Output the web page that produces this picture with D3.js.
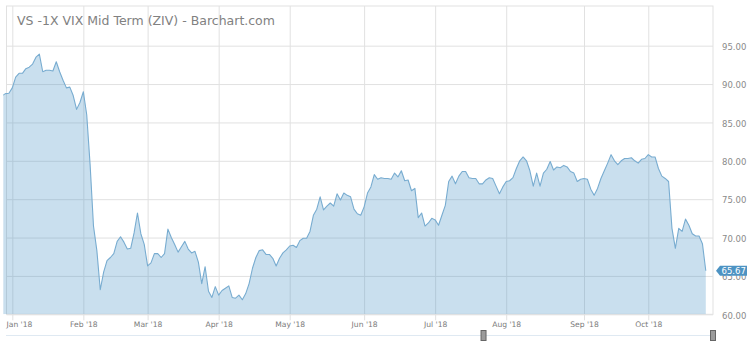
<!DOCTYPE html>
<html><head><meta charset="utf-8">
<script src="https://cdn.jsdelivr.net/npm/d3@7"></script>
<style>body{margin:0;background:#fff}svg{display:block}text{font-family:"DejaVu Sans",sans-serif}</style>
</head><body><svg id="c" width="750" height="346"></svg>
<script>
const title = "VS -1X VIX Mid Term (ZIV) - Barchart.com";
// daily closes, trading-day order (Dec 27 2017 .. Oct 24 2018)
const values = [
  88.5, 88.75, 88.8, 89.5, 90.9, 91.4, 91.4, 92.0, 92.2, 92.6,
  93.5, 93.9, 91.6, 91.8, 91.8, 91.7, 92.9, 91.6, 90.5, 89.5,
  89.6, 88.5, 86.7, 87.6, 89.0, 86.0, 79.5, 71.5, 68.3, 63.2,
  65.5, 67.0, 67.4, 67.9, 69.5, 70.1, 69.4, 68.5, 68.6, 70.6,
  73.2, 70.5, 69.1, 66.3, 66.7, 67.9, 67.9, 67.4, 67.9, 71.1,
  70.0, 69.1, 68.1, 68.8, 69.5, 68.5, 68.0, 68.2, 66.8, 64.0,
  66.2, 63.0, 62.2, 63.6, 62.5, 63.1, 63.4, 63.7, 62.2, 62.1,
  62.5, 61.9, 62.7, 64.0, 66.0, 67.4, 68.3, 68.4, 67.8, 67.8,
  67.3, 66.3, 67.3, 68.0, 68.4, 68.9, 69.0, 68.7, 69.6, 69.9,
  69.9, 70.8, 72.9, 73.7, 75.3, 73.6, 74.1, 74.5, 74.1, 75.7,
  74.9, 75.8, 75.5, 75.3, 73.7, 73.1, 72.9, 74.0, 75.8, 76.6,
  78.2, 77.6, 77.8, 77.7, 77.7, 77.6, 78.4, 77.9, 78.7, 77.4,
  77.5, 76.1, 76.4, 72.6, 73.2, 71.5, 71.9, 72.5, 72.3, 71.6,
  72.9, 74.2, 77.3, 78.0, 77.0, 78.0, 78.6, 78.6, 77.8, 77.7,
  77.7, 77.0, 77.0, 77.5, 77.8, 77.7, 76.7, 75.7, 76.6, 77.3,
  77.4, 77.8, 79.0, 80.0, 80.5, 80.0, 78.7, 76.7, 78.4, 76.7,
  78.4, 78.9, 79.9, 78.8, 79.2, 79.1, 79.4, 79.2, 78.6, 78.4,
  77.3, 77.6, 77.7, 77.6, 76.3, 75.5, 76.4, 77.7, 78.7, 79.7,
  80.8, 80.0, 79.5, 80.0, 80.3, 80.3, 80.4, 80.0, 79.7, 80.2,
  80.3, 80.8, 80.5, 80.5, 79.0, 78.0, 77.7, 77.3, 71.2, 68.6,
  71.2, 70.8, 72.4, 71.6, 70.5, 70.2, 70.2, 69.2, 65.67
];
const monthLabels = ["Jan '18","Feb '18","Mar '18","Apr '18","May '18","Jun '18","Jul '18","Aug '18","Sep '18","Oct '18"];
const monthStartIdx = [3, 24, 43, 64, 85, 107, 128, 149, 172, 191];
const yTicks = [60, 65, 70, 75, 80, 85, 90, 95];
const navigatorRange = [142, 208];
const lastValue = values[values.length - 1];

const svg = d3.select("#c");
const P = {left: 6.5, right: 713, top: 6, bottom: 314.3};
const x = d3.scaleLinear().domain([0, values.length - 1]).range([2.15, 705.8]);
const y = d3.scaleLinear().domain([60, 100]).range([314.3, 7.3]);
const gridColor = "#e1e1e1";

svg.append("defs").append("clipPath").attr("id", "clip")
  .append("rect").attr("x", 3.3).attr("y", P.top).attr("width", P.right - 3.3).attr("height", P.bottom - P.top);

// horizontal grid via axis
const gy = svg.append("g").attr("transform", `translate(${P.left},0)`)
  .call(d3.axisRight(y).tickValues(yTicks).tickSize(P.right - P.left).tickFormat(""));
gy.select(".domain").remove();
gy.selectAll("line").attr("stroke", gridColor);

// vertical grid + ticks via axis
const gx = svg.append("g").attr("transform", `translate(0,${P.bottom + 6})`)
  .call(d3.axisTop(x).tickValues(monthStartIdx).tickSize(P.bottom + 6 - P.top).tickFormat(""));
gx.select(".domain").remove();
gx.selectAll("line").attr("stroke", gridColor);

// frame
svg.append("rect").attr("x", P.left).attr("y", P.top).attr("width", P.right - P.left).attr("height", P.bottom - P.top)
  .attr("fill", "none").attr("stroke", gridColor);

// area + line
const g = svg.append("g").attr("clip-path", "url(#clip)");
g.append("path").datum(values)
  .attr("d", d3.area().x((d, i) => x(i)).y0(y(60)).y1(d => y(d)))
  .attr("fill", "rgb(70,145,195)").attr("fill-opacity", 0.29);
g.append("path").datum(values)
  .attr("d", d3.line().x((d, i) => x(i)).y(d => y(d)))
  .attr("fill", "none").attr("stroke", "#78acd0").attr("stroke-width", 1.1).attr("stroke-linejoin", "round");

// title
svg.append("text").attr("x", 17).attr("y", 25).attr("font-size", 12.5).attr("fill", "#818181").text(title);

// y labels
const yl = svg.append("g").attr("transform", `translate(722,1)`)
  .call(d3.axisRight(y).tickValues(yTicks).tickSize(0).tickPadding(0).tickFormat(d3.format(".2f")));
yl.select(".domain").remove();
yl.selectAll("text").attr("font-size", 8.5).attr("fill", "#8a8a8a").attr("font-family", "DejaVu Sans");

// x labels
const xl = svg.append("g").attr("transform", `translate(0,${P.bottom})`)
  .call(d3.axisBottom(x).tickValues(monthStartIdx).tickSize(0).tickFormat((d, i) => monthLabels[i]));
xl.select(".domain").remove();
xl.selectAll("text").attr("font-size", 7.6).attr("fill", "#7a7a7a").attr("font-family", "DejaVu Sans")
  .attr("y", 13.2).attr("dy", 0)
  .each(function(d) {
    const w = this.getComputedTextLength();
    const left = x(d) - w / 2;
    if (left < 6) d3.select(this).attr("text-anchor", "start").attr("x", 6 - x(d));
  });

// last value tag
const ty = y(lastValue);
svg.append("path")
  .attr("d", `M716,${ty} L720,${ty - 5} L747,${ty - 5} L747,${ty + 5} L720,${ty + 5} Z`)
  .attr("fill", "#4d93c3");
svg.append("text").attr("x", 721.5).attr("y", ty).attr("dy", "0.35em").attr("font-size", 8.5)
  .attr("fill", "#fff").text(d3.format(".2f")(lastValue));

// scrollbar / navigator
svg.append("line").attr("x1", 6).attr("x2", 713).attr("y1", 335.5).attr("y2", 335.5)
  .attr("stroke", "#dfe9f2").attr("stroke-width", 1);
[x(navigatorRange[0]) + 1, P.right].forEach(cx => {
  svg.append("rect").attr("x", cx - 2.5).attr("y", 330.5).attr("width", 5).attr("height", 10)
    .attr("fill", "#9b9b9b").attr("stroke", "#666").attr("stroke-width", 1);
});
</script></body></html>
